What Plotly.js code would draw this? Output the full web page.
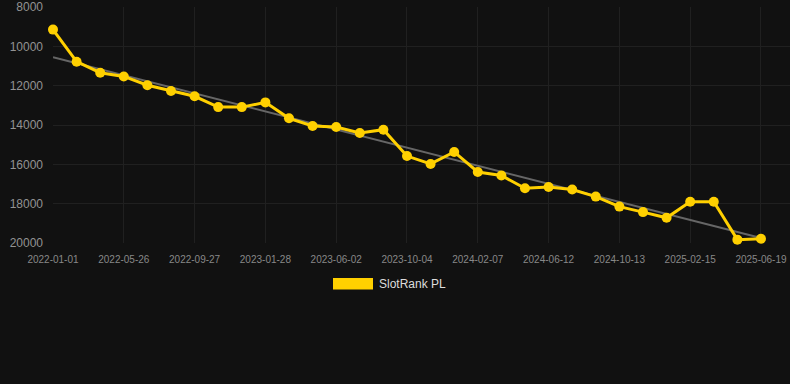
<!DOCTYPE html>
<html>
<head>
<meta charset="utf-8">
<script src="https://cdn.plot.ly/plotly-3.0.1.min.js"></script>
<style>
html, body { margin: 0; padding: 0; background: #111111; }
#chart { width: 790px; height: 384px; }
</style>
</head>
<body>
<div id="chart"></div>
<script>
// ---- data ----
const seriesName = "SlotRank PL";
const rankValues = [9150, 10780, 11340, 11530, 11980, 12270, 12540, 13090, 13090, 12850,
                    13660, 14050, 14100, 14410, 14240, 15580, 15980, 15370, 16390, 16570,
                    17220, 17150, 17280, 17640, 18150, 18430, 18720, 17900, 17900, 19830, 19780];
const tickLabels = ["2022-01-01", "2022-05-26", "2022-09-27", "2023-01-28", "2023-06-02",
                    "2023-10-04", "2024-02-07", "2024-06-12", "2024-10-13", "2025-02-15", "2025-06-19"];
const tickStep = 3;              // one date label every 3 points
const trendValues = [10550, 19750]; // trend line at first and last point
const yTicks = [8000, 10000, 12000, 14000, 16000, 18000, 20000];

// ---- build ----
const xIdx = rankValues.map((_, i) => i);
const tickPos = tickLabels.map((_, i) => i * tickStep);
const trendX = [xIdx[0], xIdx[xIdx.length - 1]];

const FONT = '"Liberation Sans", Arial, Helvetica, sans-serif';
const YELLOW = '#FFD000';

const traces = [
  {
    x: trendX, y: trendValues, type: 'scatter', mode: 'lines',
    line: { color: '#666666', width: 2 },
    hoverinfo: 'skip', showlegend: false, cliponaxis: false
  },
  {
    x: xIdx, y: rankValues, type: 'scatter', mode: 'lines+markers', name: seriesName,
    line: { color: YELLOW, width: 3 },
    marker: { color: YELLOW, size: 10 },
    showlegend: false, cliponaxis: false
  }
];

const layout = {
  width: 790, height: 384,
  paper_bgcolor: '#111111', plot_bgcolor: '#111111',
  margin: { l: 53, r: 0, t: 7, b: 141 },
  font: { family: FONT, color: '#999999' },
  showlegend: false,
  xaxis: {
    range: [0, 31.23],
    tickmode: 'array', tickvals: tickPos, ticktext: tickLabels,
    showgrid: true, gridcolor: '#202020', gridwidth: 1,
    zeroline: false, showline: false, ticks: '',
    ticklabelstandoff: 9,
    tickfont: { family: FONT, size: 10, color: '#888888' }
  },
  yaxis: {
    range: [20000, 8000],
    tickmode: 'array', tickvals: yTicks, tickformat: 'd',
    showgrid: true, gridcolor: '#202020', gridwidth: 1,
    zeroline: false, showline: false, ticks: '',
    ticklabelstandoff: 9,
    tickfont: { family: FONT, size: 12, color: '#939393' }
  },
  shapes: [
    { type: 'rect', xref: 'paper', yref: 'paper',
      x0: (333 - 53) / 737, x1: (373 - 53) / 737,
      y0: -(289.5 - 243) / 236, y1: -(278 - 243) / 236,
      fillcolor: YELLOW, line: { width: 0 } }
  ],
  annotations: [
    { xref: 'paper', yref: 'paper', x: (377 - 53) / 737, y: -(284 - 243) / 236,
      xanchor: 'left', yanchor: 'middle', showarrow: false,
      text: seriesName, font: { family: FONT, size: 12, color: '#DDDDDD' } }
  ]
};

Plotly.newPlot('chart', traces, layout, { displayModeBar: false, staticPlot: true });
</script>
</body>
</html>
